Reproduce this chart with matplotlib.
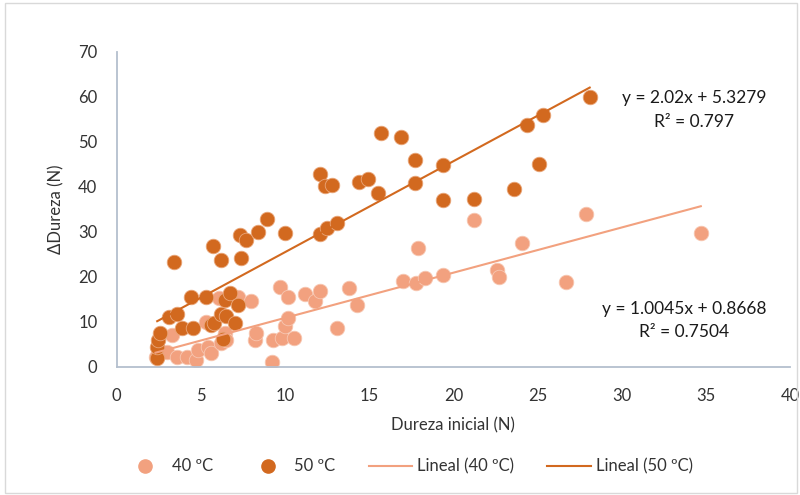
import numpy as np
import matplotlib
matplotlib.use("Agg")
import matplotlib.pyplot as plt
from matplotlib.lines import Line2D
from matplotlib.patches import Rectangle

plt.rcParams["font.family"] = ["Lato", "DejaVu Sans"]

# === DATA ===
x_40 = [2.3, 3.0, 3.3, 3.6, 4.2, 4.7, 4.8, 5.4, 5.6, 5.3, 6.1, 6.2, 6.4, 6.5,
        7.2, 8.0, 8.2, 8.3, 9.2, 9.3, 9.7, 9.8, 10.0, 10.2, 10.2, 10.5, 11.2,
        11.8, 12.1, 13.1, 13.8, 14.3, 17.0, 17.8, 17.9, 18.3, 19.4, 21.2, 22.6,
        22.7, 24.1, 26.7, 27.9, 34.7]
y_40 = [2.2, 3.4, 7.1, 2.3, 2.3, 1.6, 3.8, 4.5, 3.1, 9.9, 15.3, 5.3, 7.5, 6.0,
        15.6, 14.6, 6.0, 7.5, 1.1, 6.0, 17.8, 6.5, 9.0, 10.9, 15.6, 6.5, 16.2,
        14.6, 16.9, 8.7, 17.6, 13.7, 19.1, 18.7, 26.4, 19.7, 20.4, 32.7, 21.6,
        20.0, 27.6, 18.9, 34.0, 29.8]

x_50 = [2.4, 2.4, 2.45, 2.55, 3.1, 3.4, 3.6, 3.9, 4.4, 4.5, 5.3, 5.6, 5.7, 5.8,
        6.2, 6.2, 6.3, 6.4, 6.5, 6.7, 7.0, 7.2, 7.3, 7.4, 7.7, 8.4, 8.9, 10.0,
        12.1, 12.1, 12.4, 12.5, 12.8, 13.1, 14.4, 14.9, 15.5, 15.7, 16.9, 17.7,
        17.7, 19.4, 19.4, 21.2, 23.6, 24.4, 25.1, 25.3, 28.1]
y_50 = [2.0, 4.5, 6.0, 7.6, 11.1, 23.4, 11.8, 8.7, 15.6, 8.7, 15.6, 9.3, 26.9,
        9.8, 23.8, 11.8, 6.2, 14.9, 11.3, 16.5, 9.8, 13.8, 29.3, 24.2, 28.2,
        30.0, 32.9, 29.8, 29.6, 42.9, 40.2, 30.9, 40.4, 32.0, 41.1, 41.7, 38.6,
        52.0, 51.1, 46.0, 40.9, 44.9, 37.1, 37.3, 39.5, 53.8, 45.1, 56.0, 60.0]

# trendline coefficients (slope, intercept, r2)
fit_40 = (1.0045, 0.8668, 0.7504)
fit_50 = (2.02, 5.3279, 0.797)

C40 = "#F2A17F"
C50 = "#D2691F"
AXIS = "#B4BFCE"
TXT = "#333333"

fig = plt.figure(figsize=(8, 4.95), dpi=100)
ax = fig.add_axes([0.146, 0.2586, 0.8415, 0.6364])

ax.scatter(x_40, y_40, s=110, color=C40, edgecolors="#F7C7B2", linewidths=0.6, zorder=2)
ax.scatter(x_50, y_50, s=110, color=C50, edgecolors="#E9A67A", linewidths=0.6, zorder=3)

for xs, (m, b, _), col in [(x_40, fit_40, C40), (x_50, fit_50, C50)]:
    xl = np.array([min(xs), max(xs)])
    ax.plot(xl, m * xl + b, color=col, lw=1.5, zorder=4)

ax.set_xlim(0, 40)
ax.set_ylim(0, 70)
ax.set_xticks(range(0, 41, 5))
ax.set_yticks(range(0, 71, 10))
ax.tick_params(axis="x", length=0, labelsize=12, colors=TXT, pad=15)
ax.tick_params(axis="y", length=0, labelsize=12, colors=TXT, pad=14)
for s in ["top", "right"]:
    ax.spines[s].set_visible(False)
for s in ["left", "bottom"]:
    ax.spines[s].set_color(AXIS)
    ax.spines[s].set_linewidth(1.3)

ax.set_xlabel("Dureza inicial (N)", fontsize=12, color=TXT, labelpad=10)
ax.set_ylabel("ΔDureza (N)", fontsize=12, color=TXT, labelpad=10)

ax.text(34.3, 57.1, f"y = {fit_50[0]}x + {fit_50[1]}\nR² = {fit_50[2]}",
        ha="center", va="center", fontsize=12.5, color="#1A1A1A", linespacing=1.55)
ax.text(33.7, 10.4, f"y = {fit_40[0]}x + {fit_40[1]}\nR² = {fit_40[2]}",
        ha="center", va="center", fontsize=12.5, color="#1A1A1A", linespacing=1.55)

handles = [
    Line2D([], [], ls="none", marker="o", ms=9.5, color=C40),
    Line2D([], [], ls="none", marker="o", ms=9.5, color=C50),
    Line2D([], [], color=C40, lw=1.5),
    Line2D([], [], color=C50, lw=1.5),
]
labels = ["40 ºC", "50 ºC", "Lineal (40 ºC)", "Lineal (50 ºC)"]
fig.legend(handles, labels, loc="center", bbox_to_anchor=(0.51, 0.058), ncol=4,
           frameon=False, fontsize=12, handlelength=2.6, columnspacing=2.0,
           handletextpad=0.3, labelcolor=TXT)

# outer chart frame
fig.patches.append(Rectangle((0.006, 0.004), 0.99, 0.99, transform=fig.transFigure,
                             fill=False, edgecolor="#D9D9D9", lw=1))

fig.savefig("out.png", dpi=100)
